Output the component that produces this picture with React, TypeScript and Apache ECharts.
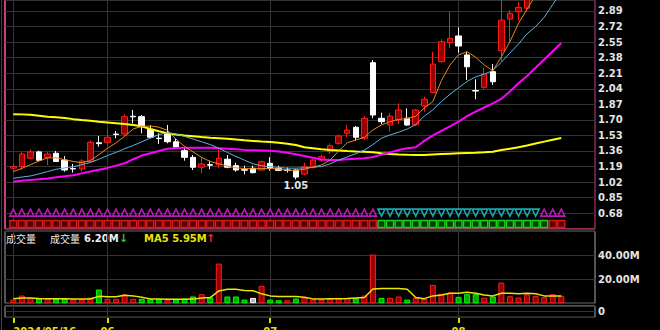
import React, { useEffect, useRef } from 'react';
import * as echarts from 'echarts';

// ---- price data (index = trading day) ----
const OPEN = [1.172, 1.19, 1.28, 1.35, 1.29, 1.335, 1.26, 1.168, 1.163, 1.243,
  1.45, 1.455, 1.545, 1.546, 1.74, 1.735, 1.597, 1.5, 1.553, 1.46,
  1.363, 1.29, 1.182, 1.21, 1.207, 1.27, 1.2, 1.155, 1.171, 1.152,
  1.225, 1.17, 1.152, 1.152, 1.108, 1.182, 1.262, 1.352, 1.444, 1.553,
  1.619, 1.5, 2.325, 1.717, 1.644, 1.7, 1.717, 1.644, 1.852, 2.0,
  2.336, 2.543, 2.617, 2.41, 2.02, 2.056, 2.227, 2.456, 2.8, 2.882,
  2.92, 3.1, 3.22, 3.35, 3.45];
const CLOSE = [1.188, 1.327, 1.35, 1.258, 1.327, 1.245, 1.152, 1.164, 1.25, 1.455,
  1.44, 1.51, 1.54, 1.735, 1.733, 1.625, 1.51, 1.495, 1.461, 1.4,
  1.291, 1.182, 1.218, 1.205, 1.28, 1.182, 1.152, 1.15, 1.123, 1.243,
  1.171, 1.148, 1.148, 1.075, 1.19, 1.261, 1.298, 1.418, 1.524, 1.589,
  1.51, 1.717, 1.753, 1.68, 1.742, 1.808, 1.644, 1.808, 1.925, 2.31,
  2.554, 2.591, 2.507, 2.28, 2.015, 2.201, 2.117, 2.79, 2.865, 2.93,
  3.08, 3.22, 3.35, 3.48, 3.55];
const LOW = [1.134, 1.152, 1.27, 1.255, 1.207, 1.24, 1.134, 1.123, 1.134, 1.232,
  1.407, 1.418, 1.499, 1.527, 1.662, 1.553, 1.5, 1.437, 1.444, 1.389,
  1.254, 1.152, 1.116, 1.16, 1.171, 1.171, 1.134, 1.105, 1.115, 1.145,
  1.145, 1.14, 1.125, 1.05, 1.097, 1.17, 1.24, 1.327, 1.43, 1.51,
  1.472, 1.48, 1.717, 1.655, 1.571, 1.655, 1.633, 1.633, 1.789, 1.99,
  2.325, 2.482, 2.434, 2.136, 1.925, 2.034, 2.081, 2.336, 2.554, 2.784,
  2.882, 3.05, 3.15, 3.3, 3.38];
const HIGH = [1.218, 1.346, 1.378, 1.363, 1.352, 1.36, 1.305, 1.218, 1.27, 1.472,
  1.524, 1.597, 1.578, 1.761, 1.808, 1.753, 1.64, 1.553, 1.644, 1.499,
  1.407, 1.316, 1.291, 1.254, 1.378, 1.316, 1.232, 1.199, 1.199, 1.254,
  1.291, 1.2, 1.18, 1.16, 1.232, 1.27, 1.32, 1.444, 1.54, 1.644,
  1.633, 1.742, 2.354, 1.778, 1.778, 1.881, 1.826, 1.82, 1.953, 2.445,
  2.58, 2.882, 2.712, 2.445, 2.143, 2.274, 2.31, 3.08, 2.9, 2.99,
  3.15, 3.3, 3.45, 3.55, 3.62];

// ---- moving-average lines ----
const MA_ORANGE = [1.134, 1.17, 1.21, 1.25, 1.285, 1.285, 1.265, 1.245, 1.232, 1.255,
  1.32, 1.39, 1.45, 1.52, 1.6, 1.63, 1.633, 1.62, 1.585, 1.49,
  1.41, 1.35, 1.29, 1.245, 1.22, 1.195, 1.175, 1.168, 1.165, 1.168,
  1.17, 1.163, 1.15, 1.148, 1.16, 1.185, 1.207, 1.26, 1.36, 1.45,
  1.48, 1.51, 1.59, 1.645, 1.68, 1.705, 1.715, 1.74, 1.83, 1.9,
  2.13, 2.3, 2.41, 2.445, 2.385, 2.3, 2.237, 2.39, 2.554, 2.755,
  2.91, 3.06, 3.2, 3.32, 3.42];
const MA_BLUE = [1.061, 1.075, 1.087, 1.11, 1.135, 1.16, 1.175, 1.188, 1.21, 1.235,
  1.27, 1.31, 1.345, 1.385, 1.42, 1.46, 1.5, 1.54, 1.56, 1.545,
  1.52, 1.49, 1.46, 1.43, 1.39, 1.345, 1.3, 1.26, 1.22, 1.198,
  1.188, 1.18, 1.172, 1.172, 1.175, 1.182, 1.19, 1.22, 1.26, 1.295,
  1.33, 1.37, 1.43, 1.5, 1.535, 1.565, 1.6, 1.65, 1.74, 1.81,
  1.9, 1.98, 2.05, 2.12, 2.17, 2.2, 2.24, 2.33, 2.43, 2.53,
  2.64, 2.72, 2.82, 2.96, 3.1];
const MA_MAGENTA = [1.024, 1.035, 1.043, 1.05, 1.06, 1.072, 1.085, 1.095, 1.115, 1.135,
  1.155, 1.175, 1.2, 1.225, 1.27, 1.31, 1.335, 1.36, 1.385, 1.392,
  1.396, 1.396, 1.396, 1.396, 1.39, 1.383, 1.378, 1.372, 1.368, 1.365,
  1.362, 1.355, 1.34, 1.325, 1.305, 1.285, 1.268, 1.261, 1.262, 1.27,
  1.275, 1.28, 1.295, 1.32, 1.345, 1.37, 1.39, 1.4, 1.47, 1.53,
  1.58, 1.63, 1.68, 1.74, 1.79, 1.835, 1.88, 1.93, 2.01, 2.1,
  2.18, 2.27, 2.36, 2.45, 2.54];
const MA_YELLOW = [1.762, 1.76, 1.755, 1.745, 1.735, 1.728, 1.72, 1.708, 1.698, 1.69,
  1.68, 1.672, 1.664, 1.655, 1.645, 1.63, 1.6, 1.575, 1.555, 1.54,
  1.528, 1.52, 1.512, 1.505, 1.5, 1.493, 1.485, 1.476, 1.47, 1.463,
  1.457, 1.45, 1.44, 1.425, 1.4, 1.39, 1.38, 1.371, 1.366, 1.36,
  1.355, 1.352, 1.345, 1.335, 1.327, 1.322, 1.318, 1.316, 1.316, 1.322,
  1.327, 1.331, 1.335, 1.338, 1.341, 1.346, 1.352, 1.37, 1.385, 1.4,
  1.42, 1.442, 1.462, 1.482, 1.502];

// ---- volume (millions) ----
const VOLUME = [3.0, 6.4, 4.4, 3.9, 3.6, 3.6, 3.9, 3.0, 3.0, 4.7,
  11.4, 3.6, 3.6, 7.2, 3.6, 3.6, 3.3, 3.3, 2.5, 3.0,
  3.9, 5.6, 7.5, 4.7, 33.0, 5.6, 5.6, 3.0, 4.4, 14.4,
  3.0, 2.5, 2.5, 3.9, 4.7, 3.0, 3.0, 3.6, 4.4, 4.4,
  4.1, 6.4, 40.6, 4.4, 4.4, 5.6, 3.0, 4.4, 3.6, 15.3,
  7.8, 8.9, 5.3, 7.5, 7.5, 4.7, 5.6, 17.2, 5.8, 4.7,
  7.5, 6.1, 5.0, 7.5, 6.2];
const VOL_DIR = ['r', 'r', 'r', 'g', 'r', 'g', 'g', 'r', 'r', 'r',
  'g', 'r', 'r', 'r', 'r', 'g', 'g', 'g', 'r', 'g',
  'g', 'g', 'r', 'g', 'r', 'g', 'g', 'g', 'w', 'r',
  'g', 'g', 'r', 'g', 'r', 'r', 'r', 'r', 'r', 'r',
  'g', 'r', 'r', 'g', 'r', 'r', 'g', 'r', 'r', 'r',
  'r', 'r', 'g', 'g', 'g', 'r', 'g', 'r', 'r', 'r',
  'r', 'r', 'r', 'r', 'r'];
const VOL_MA5 = [3.8, 4.3, 4.3, 4.0, 3.8, 3.7, 3.7, 3.6, 3.5, 3.5,
  5.7, 5.4, 5.4, 6.6, 6.1, 5.0, 3.6, 3.6, 3.3, 3.3,
  3.3, 3.4, 4.4, 4.7, 10.2, 11.6, 11.6, 10.5, 10.4, 7.8,
  6.1, 5.5, 5.5, 5.5, 5.0, 3.6, 3.6, 3.8, 3.8, 3.9,
  4.4, 4.7, 11.8, 12.2, 12.2, 12.2, 11.6, 4.7, 3.8, 6.1,
  6.9, 8.3, 8.3, 9.1, 8.3, 6.9, 6.1, 8.3, 8.3, 7.8,
  8.3, 7.8, 6.1, 5.9, 5.95];

// ---- signal rows (1 = up marker, -1 = down marker) ----
const TRI_SIGNAL = [1, 1, 1, 1, 1, 1, 1, 1, 1, 1, 1, 1, 1, 1, 1, 1, 1, 1, 1, 1,
  1, 1, 1, 1, 1, 1, 1, 1, 1, 1, 1, 1, 1, 1, 1, 1, 1, 1, 1, 1, 1, 1, 1,
  -1, -1, -1, -1, -1, -1, -1, -1, -1, -1, -1, -1, -1, -1, -1, -1, -1, -1, -1,
  1, 1, 1];
const SQ_SIGNAL = [1, 1, 1, 1, 1, 1, 1, 1, 1, 1, 1, 1, 1, 1, 1, 1, 1, 1, 1, 1,
  1, 1, 1, 1, 1, 1, 1, 1, 1, 1, 1, 1, 1, 1, 1, 1, 1, 1, 1, 1, 1, 1, 1,
  -1, -1, -1, -1, -1, -1, -1, -1, -1, -1, -1, -1, -1, -1, -1, -1, -1, -1, -1, -1,
  1, 1];

// ---- axis ticks ----
const TICK_INDEX = [0, 11, 30, 52];
const TICK_TEXT = ['2024/05/16', '06', '07', '08'];
const PRICE_MIN = 0.51;
const PRICE_MAX = 3.01;
const PRICE_STEP = 0.17;
const PRICE_LABEL_LO = 0.68;
const PRICE_LABEL_HI = 2.89;
const VOL_MAX = 60;
const VOL_STEP = 20;

// ---- layout ----
const GRID_LEFT = 5;
const GRID_W = 590;
const FIRST_X = 13.3;
const STEP_PX = 8.5625;
const X_MIN = -(FIRST_X - GRID_LEFT) / STEP_PX;
const X_MAX = X_MIN + GRID_W / STEP_PX;

const FONT = 'DejaVu Sans';
const LABEL_COLOR = '#e4e4e4';
const PINK = '#c8407c';
const GRID_LINE = '#343434';

const UP_FILL = '#980000';
const UP_BORDER = '#ff1a1a';

function buildOption() {
  const n = OPEN.length;
  const cats = OPEN.map((_, i) => String(i));
  const candle = OPEN.map((o, i) => [i, o, CLOSE[i], LOW[i], HIGH[i]]);
  const line = (arr: number[]) => arr.map((v, i) => [i, v]);
  const isTick = (i: number) => TICK_INDEX.indexOf(i) >= 0;

  const volStyle: Record<string, any> = {
    r: { color: UP_FILL, borderColor: UP_BORDER, borderWidth: 1 },
    g: { color: '#00a800', borderColor: '#00ff00', borderWidth: 1 },
    w: { color: '#b8b8b8', borderColor: '#ffffff', borderWidth: 1 },
  };

  const hiddenX = (gridIndex: number) => ({
    type: 'value', gridIndex, min: X_MIN, max: X_MAX, show: false,
  });

  const lastVol = VOLUME[n - 1];
  const prevVol = VOLUME[n - 2];
  const lastMa = VOL_MA5[n - 1];
  const prevMa = VOL_MA5[n - 2];

  const gridBase = { outerBoundsMode: 'none', containLabel: false };

  return {
    animation: false,
    backgroundColor: '#000000',
    grid: [
      { ...gridBase, left: GRID_LEFT, width: GRID_W, top: 0, height: 228.75, show: true, borderColor: PINK, borderWidth: 1, backgroundColor: 'transparent' },
      { ...gridBase, left: GRID_LEFT, width: GRID_W, top: 207, height: 22.6 },
      { ...gridBase, left: GRID_LEFT, width: GRID_W, top: 231.2, height: 72, show: true, borderColor: '#a8a8a8', borderWidth: 1, backgroundColor: 'transparent' },
      { ...gridBase, left: GRID_LEFT, width: GRID_W, top: 306, height: 11.3, show: true, borderColor: '#a8a8a8', borderWidth: 1, backgroundColor: 'transparent' },
      { ...gridBase, left: FIRST_X, width: STEP_PX * (n - 1), top: 0, height: 318 },
    ],
    xAxis: [
      hiddenX(0),
      hiddenX(1),
      hiddenX(2),
      hiddenX(3),
      {
        type: 'category', gridIndex: 4, data: cats, boundaryGap: false,
        axisLine: { show: false },
        axisTick: { show: true, interval: (i: number) => isTick(i), length: 5, lineStyle: { color: '#e0e000', width: 2 } },
        axisLabel: {
          interval: (i: number) => isTick(i),
          formatter: (_v: string, i: number) => TICK_TEXT[TICK_INDEX.indexOf(i)] || '',
          color: '#e0e000', fontFamily: FONT, fontWeight: 'bold', fontSize: 10, margin: 8,
          alignMinLabel: 'left',
        },
        splitLine: { show: true, interval: (i: number) => isTick(i), lineStyle: { color: GRID_LINE, width: 1 } },
      },
    ],
    yAxis: [
      {
        type: 'value', gridIndex: 0, position: 'right', min: PRICE_MIN, max: PRICE_MAX, interval: PRICE_STEP,
        axisLine: { show: false }, axisTick: { show: false },
        axisLabel: {
          color: LABEL_COLOR, fontFamily: FONT, fontWeight: 'bold', fontSize: 10, margin: 3,
          formatter: (v: number) => (v > PRICE_LABEL_LO - 0.001 && v < PRICE_LABEL_HI + 0.001 ? v.toFixed(2) : ''),
        },
        splitLine: { show: true, lineStyle: { color: GRID_LINE, width: 1 } },
      },
      { type: 'category', gridIndex: 1, data: ['sq', 'tri'], show: false },
      {
        type: 'value', gridIndex: 2, position: 'right', min: 0, max: VOL_MAX, interval: VOL_STEP,
        axisLine: { show: false }, axisTick: { show: false },
        axisLabel: {
          color: LABEL_COLOR, fontFamily: FONT, fontWeight: 'bold', fontSize: 10, margin: 3,
          formatter: (v: number) => (v > 0 && v < VOL_MAX ? v.toFixed(2) + 'M' : ''),
        },
        splitLine: { show: true, lineStyle: { color: GRID_LINE, width: 1 } },
      },
      {
        type: 'value', gridIndex: 3, position: 'right', min: -1, max: 1, interval: 1,
        axisLine: { show: false }, axisTick: { show: false },
        axisLabel: {
          color: LABEL_COLOR, fontFamily: FONT, fontWeight: 'bold', fontSize: 10, margin: 3,
          formatter: (v: number) => (v === 0 ? '0' : ''),
        },
        splitLine: { show: true, lineStyle: { color: GRID_LINE, width: 1 } },
      },
      { type: 'value', gridIndex: 4, show: false },
    ],
    series: [
      {
        type: 'candlestick', xAxisIndex: 0, yAxisIndex: 0, data: candle, barWidth: 6, clip: true, z: 2,
        itemStyle: { color: UP_FILL, color0: '#ffffff', borderColor: UP_BORDER, borderColor0: '#ffffff', borderWidth: 1 },
        markPoint: {
          symbol: 'circle', symbolSize: 1, itemStyle: { color: 'rgba(0,0,0,0)' }, silent: true,
          label: {
            show: true, position: 'bottom', distance: 1, color: LABEL_COLOR,
            fontFamily: FONT, fontWeight: 'bold', fontSize: 10,
            formatter: (p: any) => Number(p.value).toFixed(2),
          },
          data: [{ type: 'min', valueDim: 'lowest' }],
        },
      },
      { type: 'line', xAxisIndex: 0, yAxisIndex: 0, data: line(MA_YELLOW), showSymbol: false, z: 3, lineStyle: { color: '#ffff00', width: 2 } },
      { type: 'line', xAxisIndex: 0, yAxisIndex: 0, data: line(MA_MAGENTA), showSymbol: false, z: 3, lineStyle: { color: '#ff00ff', width: 2 } },
      { type: 'line', xAxisIndex: 0, yAxisIndex: 0, data: line(MA_BLUE), showSymbol: false, z: 4, lineStyle: { color: '#5ab4dc', width: 1 } },
      { type: 'line', xAxisIndex: 0, yAxisIndex: 0, data: line(MA_ORANGE), showSymbol: false, z: 4, lineStyle: { color: '#e8891c', width: 1 } },
      {
        type: 'scatter', xAxisIndex: 1, yAxisIndex: 1, symbol: 'triangle', symbolSize: [7, 7], silent: true,
        data: TRI_SIGNAL.map((s, i) => ({
          value: [i, 1], symbolRotate: s > 0 ? 0 : 180,
          itemStyle: { color: '#000', borderColor: s > 0 ? '#e020e0' : '#20d0d8', borderWidth: 1.6 },
        })),
      },
      {
        type: 'scatter', xAxisIndex: 1, yAxisIndex: 1, symbol: 'rect', symbolSize: 7, silent: true,
        data: SQ_SIGNAL.map((s, i) => ({
          value: [i, 0],
          itemStyle: s > 0
            ? { color: '#700000', borderColor: '#ff2020', borderWidth: 1.4 }
            : { color: '#005000', borderColor: '#20ff20', borderWidth: 1.4 },
        })),
      },
      {
        type: 'bar', xAxisIndex: 2, yAxisIndex: 2, barWidth: 6, silent: true,
        data: VOLUME.map((v, i) => ({ value: [i, v], itemStyle: volStyle[VOL_DIR[i]] })),
      },
      { type: 'line', xAxisIndex: 2, yAxisIndex: 2, data: line(VOL_MA5), showSymbol: false, z: 3, lineStyle: { color: '#e8e800', width: 1.5 } },
    ],
    graphic: [
      { type: 'rect', shape: { x: 1, y: 0, width: 1, height: 330 }, style: { fill: '#e00000' }, silent: true },
      { type: 'rect', shape: { x: 4, y: 0, width: 2, height: 228.75 }, style: { fill: PINK }, silent: true },
      { type: 'text', x: 6, y: 238, style: { text: '成交量', fill: '#eeeeee', font: '10px "Noto Sans CJK SC"', verticalAlign: 'middle' }, silent: true },
      { type: 'text', x: 50, y: 238, style: { text: '成交量', fill: '#eeeeee', font: '10px "Noto Sans CJK SC"', verticalAlign: 'middle' }, silent: true },
      { type: 'text', x: 84, y: 238.5, style: { text: lastVol.toFixed(2) + 'M', fill: '#eeeeee', font: 'bold 10px "DejaVu Sans"', verticalAlign: 'middle' }, silent: true },
      { type: 'text', x: 119, y: 238.5, style: { text: lastVol < prevVol ? '↓' : '↑', fill: lastVol < prevVol ? '#20d020' : '#ff2020', font: 'bold 11px "DejaVu Sans"', verticalAlign: 'middle' }, silent: true },
      { type: 'text', x: 144, y: 238.5, style: { text: 'MA5 ' + lastMa.toFixed(2) + 'M', fill: '#e6e600', font: 'bold 10px "DejaVu Sans"', verticalAlign: 'middle' }, silent: true },
      { type: 'text', x: 206, y: 238.5, style: { text: lastMa < prevMa ? '↓' : '↑', fill: lastMa < prevMa ? '#20d020' : '#ff2020', font: 'bold 11px "DejaVu Sans"', verticalAlign: 'middle' }, silent: true },
    ],
  };
}

export default function App() {
  const ref = useRef<HTMLDivElement>(null);
  useEffect(() => {
    document.body.style.margin = '0';
    document.body.style.background = '#000';
    const chart = echarts.init(ref.current as HTMLDivElement, null, { renderer: 'svg' });
    chart.setOption(buildOption() as any);
    return () => chart.dispose();
  }, []);
  return (
    <div
      ref={ref}
      style={{ position: 'fixed', left: 0, top: 0, width: 660, height: 330, background: '#000' }}
    />
  );
}
